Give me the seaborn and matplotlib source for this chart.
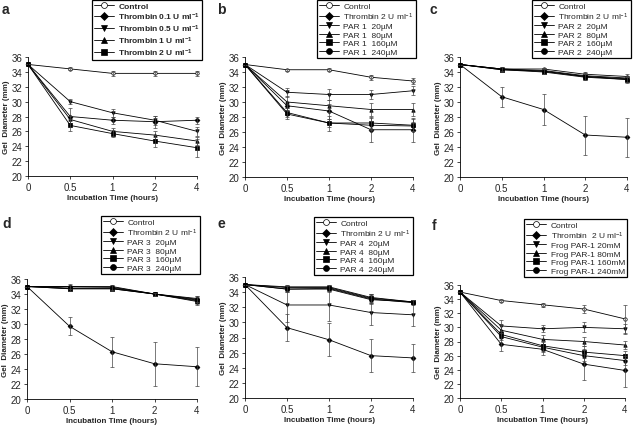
import numpy as np
import pandas as pd
import seaborn as sns
import matplotlib.pyplot as plt

sns.set_style("white")
plt.rcParams["font.family"] = ["Liberation Sans", "DejaVu Sans"]
plt.rcParams["mathtext.fontset"] = "custom"
plt.rcParams["mathtext.rm"] = "Liberation Sans"
plt.rcParams["mathtext.it"] = "Liberation Sans:italic"
plt.rcParams["mathtext.bf"] = "Liberation Sans:bold"

times = ["0", "0.5", "1", "2", "4"]
markers = ["o", "D", "v", "^", "s", "o"]

# panel a
a_labels = ["Control", r"Thrombin 0.1 U ml$^{\mathbf{-1}}$", r"Thrombin 0.5 U ml$^{\mathbf{-1}}$",
            r"Thrombin 1 U ml$^{\mathbf{-1}}$", r"Thrombin 2 U ml$^{\mathbf{-1}}$"]
a_means = [[35, 34.4, 33.8, 33.8, 33.8],
           [35, 28.0, 27.5, 27.3, 27.5],
           [35, 30.0, 28.5, 27.5, 26.0],
           [35, 27.6, 26.0, 25.5, 24.7],
           [35, 26.8, 25.7, 24.7, 23.8]]
a_errs = [[0, 0.2, 0.3, 0.3, 0.3],
          [0, 1.1, 0.5, 0.8, 0.5],
          [0, 0.3, 0.5, 0.6, 0.6],
          [0, 0.5, 0.5, 0.5, 0.5],
          [0, 0.8, 0.5, 0.8, 1.2]]

# panel b
b_labels = ["Control", r"Thrombin 2 U ml$^{-1}$", "PAR 1  20µM", "PAR 1  80µM",
            "PAR 1  160µM", "PAR 1  240µM"]
b_means = [[35, 34.3, 34.3, 33.3, 32.8],
           [35, 29.5, 28.8, 26.3, 26.3],
           [35, 31.3, 31.0, 31.0, 31.5],
           [35, 30.0, 29.5, 29.0, 29.0],
           [35, 28.6, 27.2, 27.2, 26.9],
           [35, 28.4, 27.2, 26.9, 26.8]]
b_errs = [[0, 0.15, 0.2, 0.3, 0.4],
          [0, 0.5, 1.0, 1.6, 1.6],
          [0, 0.6, 0.7, 0.6, 0.6],
          [0, 0.8, 0.8, 0.9, 0.9],
          [0, 0.6, 1.0, 0.8, 0.8],
          [0, 0.6, 0.5, 0.6, 0.6]]

# panel c
c_labels = ["Control", r"Thrombin 2 U ml$^{-1}$", "PAR 2  20µM", "PAR 2  80µM",
            "PAR 2  160µM", "PAR 2  240µM"]
c_means = [[35, 34.4, 34.4, 33.7, 33.4],
           [35, 30.7, 29.0, 25.6, 25.3],
           [35, 34.4, 34.2, 33.5, 33.2],
           [35, 34.3, 34.1, 33.4, 33.1],
           [35, 34.3, 34.0, 33.3, 33.0],
           [35, 34.4, 34.1, 33.4, 33.0]]
c_errs = [[0, 0.2, 0.2, 0.3, 0.3],
          [0, 1.3, 2.1, 2.6, 2.6],
          [0, 0.3, 0.3, 0.4, 0.3],
          [0, 0.3, 0.3, 0.4, 0.3],
          [0, 0.3, 0.3, 0.4, 0.4],
          [0, 0.3, 0.3, 0.4, 0.3]]

# panel d
d_labels = ["Control", r"Thrombin 2 U ml$^{-1}$", "PAR 3  20µM", "PAR 3  80µM",
            "PAR 3  160µM", "PAR 3  240µM"]
d_means = [[35, 35.0, 35.0, 34.0, 33.4],
           [35, 29.7, 26.3, 24.7, 24.3],
           [35, 34.7, 34.7, 34.0, 33.0],
           [35, 34.8, 34.8, 34.0, 33.2],
           [35, 34.7, 34.7, 34.0, 33.1],
           [35, 35.0, 34.9, 34.0, 33.3]]
d_errs = [[0, 0.2, 0.2, 0.2, 0.3],
          [0, 1.2, 2.0, 2.9, 2.6],
          [0, 0.3, 0.3, 0.2, 0.4],
          [0, 0.3, 0.3, 0.2, 0.4],
          [0, 0.3, 0.3, 0.2, 0.4],
          [0, 0.3, 0.3, 0.2, 0.4]]

# panel e
e_labels = ["Control", r"Thrombin 2 U ml$^{-1}$", "PAR 4  20µM", "PAR 4  80µM",
            "PAR 4  160µM", "PAR 4  240µM"]
e_means = [[35, 34.7, 34.7, 33.3, 32.7],
           [35, 29.3, 27.7, 25.6, 25.3],
           [35, 32.3, 32.3, 31.3, 31.0],
           [35, 34.4, 34.4, 33.0, 32.7],
           [35, 34.6, 34.6, 33.2, 32.7],
           [35, 34.4, 34.5, 33.1, 32.6]]
e_errs = [[0, 0.3, 0.3, 0.5, 0.3],
          [0, 1.8, 2.2, 2.2, 1.9],
          [0, 2.2, 2.1, 1.7, 1.5],
          [0, 0.4, 0.4, 0.6, 0.3],
          [0, 0.4, 0.4, 0.6, 0.3],
          [0, 0.4, 0.4, 0.6, 0.3]]

# panel f
f_labels = ["Control", r"Thrombin  2 U ml$^{-1}$", "Frog PAR-1 20mM", "Frog PAR-1 80mM",
            "Frog PAR-1 160mM", "Frog PAR-1 240mM"]
f_means = [[35, 33.8, 33.2, 32.6, 31.2],
           [35, 27.6, 26.9, 24.8, 23.9],
           [35, 30.2, 29.8, 30.0, 29.8],
           [35, 29.6, 28.3, 28.0, 27.5],
           [35, 29.0, 27.4, 26.5, 26.0],
           [35, 28.7, 27.2, 26.0, 25.3]]
f_errs = [[0, 0.2, 0.3, 0.5, 2.0],
          [0, 1.0, 0.8, 2.2, 2.3],
          [0, 0.8, 0.5, 0.7, 0.7],
          [0, 0.7, 0.6, 0.6, 0.6],
          [0, 0.5, 0.7, 0.8, 0.6],
          [0, 0.5, 0.7, 0.8, 0.6]]

# letter, labels, means, errs, axes box (px), legend top-right (px), bold legend, letter pos
panels = [
    ("a", a_labels, a_means, a_errs, [28, 58, 197, 177], [202, 1], True, (2, 3)),
    ("b", b_labels, b_means, b_errs, [245, 58, 413, 178], [416, 1], False, (217, 3)),
    ("c", c_labels, c_means, c_errs, [460, 58, 627, 178], [631, 1], False, (430, 3)),
    ("d", d_labels, d_means, d_errs, [27, 280, 197, 400], [200, 217], False, (2, 217)),
    ("e", e_labels, e_means, e_errs, [245, 278, 413, 399], [413, 218], False, (217, 217)),
    ("f", f_labels, f_means, f_errs, [460, 286, 625, 399], [627, 220], False, (432, 219)),
]

W, H = 642, 427
fig = plt.figure(figsize=(W / 100, H / 100), dpi=100)

for letter, labels, means, errs, box, leg_pos, bold_leg, let_pos in panels:
    l, t, r, b = box
    ax = fig.add_axes([l / W, 1 - b / H, (r - l) / W, (b - t) / H])
    for i, lab in enumerate(labels):
        df = pd.DataFrame({"time": times, "diam": means[i]})
        mfc = "white" if i == 0 else "black"
        sns.lineplot(data=df, x="time", y="diam", ax=ax, color="black", lw=0.6,
                     marker=markers[i], markersize=2.5, markerfacecolor=mfc,
                     markeredgecolor="black", markeredgewidth=0.5, label=lab,
                     sort=False, clip_on=False)
        ax.errorbar(times, means[i], yerr=errs[i], fmt="none", ecolor="#444444",
                    elinewidth=0.5, capsize=1.2, capthick=0.5, clip_on=False)
    ax.set_xlim(0, 4)
    ax.set_ylim(20, 36)
    ax.set_yticks(np.arange(20, 37, 2))
    ax.set_xlabel("Incubation Time (hours)", fontsize=5.8, fontweight="bold", labelpad=2)
    ax.set_ylabel("Gel  Diameter (mm)", fontsize=5.8, fontweight="bold", labelpad=1)
    ax.tick_params(axis="both", labelsize=7, length=2.5, width=0.6, pad=1.5,
                   direction="out", bottom=True, left=True)
    for s in ["top", "right"]:
        ax.spines[s].set_visible(False)
    for s in ["left", "bottom"]:
        ax.spines[s].set_color("black")
        ax.spines[s].set_linewidth(0.6)
    ax.set_facecolor("white")

    leg = ax.legend(loc="upper right",
                    bbox_to_anchor=(leg_pos[0] / W, 1 - leg_pos[1] / H),
                    bbox_transform=fig.transFigure,
                    prop={"weight": "bold" if bold_leg else "normal", "size": 6},
                    frameon=True, fancybox=False, edgecolor="black",
                    framealpha=1, markerscale=1.7, handlelength=2.4,
                    handletextpad=0.5, labelspacing=0.08, borderpad=0.25,
                    borderaxespad=0)
    leg.get_frame().set_linewidth(0.9)
    leg.set_zorder(5)

    fig.text(let_pos[0] / W, 1 - let_pos[1] / H, letter, fontsize=10,
             fontweight="bold", va="top", ha="left")

fig.savefig("out.png", dpi=100, facecolor="white")
